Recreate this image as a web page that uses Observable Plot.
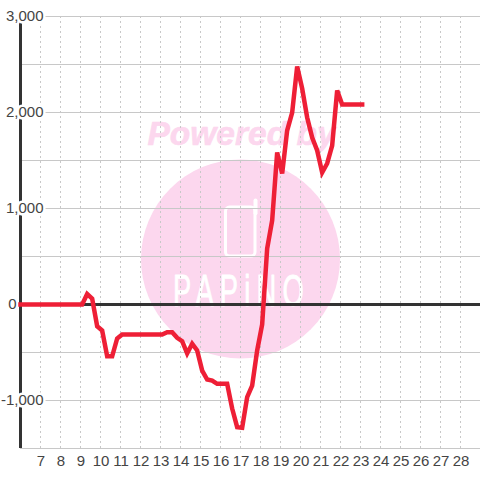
<!DOCTYPE html>
<html>
<head>
<meta charset="utf-8">
<script src="https://cdn.jsdelivr.net/npm/d3@7"></script>
<script src="https://cdn.jsdelivr.net/npm/@observablehq/plot@0.6"></script>
<style>
html,body{margin:0;padding:0;background:#fff}
svg{display:block}
</style>
</head>
<body>
<div id="chart"></div>
<script>
const hourTicks = [7,8,9,10,11,12,13,14,15,16,17,18,19,20,21,22,23,24,25,26,27,28];
const hourLabels = ["7","8","9","10","11","12","13","14","15","16","17","18","19","20","21","22","23","24","25","26","27","28"];
const gridValues = [3000,2500,2000,1500,1000,500,-500,-1000,-1500];
const valueTicks = [3000,2000,1000,-1000];
const valueLabels = ["3,000","2,000","1,000","-1,000"];
const zeroTick = [0];
const zeroLabel = ["0"];
const times = ["6:00","9:05","9:20","9:35","9:50","10:05","10:20","10:35","10:50","11:05","13:05","13:20","13:35","13:50","14:05","14:20","14:35","14:50","15:05","15:20","15:35","15:50","16:05","16:20","16:35","16:50","17:05","17:20","17:35","17:50","18:05","18:20","18:35","18:50","19:05","19:20","19:35","19:50","20:05","20:20","20:35","20:50","21:05","21:20","21:35","21:50","22:05","23:05"];
const values = [0,0,109,62,-226,-271,-539,-539,-354,-312,-312,-289,-289,-347,-382,-510,-409,-479,-688,-781,-792,-826,-826,-826,-1083,-1278,-1284,-966,-844,-479,-208,583,875,1583,1365,1812,2000,2479,2250,1948,1740,1604,1375,1469,1656,2229,2083,2083];

// watermark, in chart units
const badgeCentre = [{h:17, v:474}];
const logoBody = [{h1:16.275, h2:17.75, v1:1010, v2:500}];
const antennaHours = [17.75,17.75];
const antennaValues = [1083,950];
const PINK = "#fcd7ee";

const toHour = t => { const [h,m] = t.split(":").map(Number); return h + m/60; };
const series = times.map((t,i) => ({h: toHour(t), v: values[i]}));
const valueRows = valueTicks.map((v,i) => ({v, label: valueLabels[i]}));
const zeroRows = zeroTick.map((v,i) => ({v, label: zeroLabel[i]}));
const hourRows = hourTicks.map((h,i) => ({h, label: hourLabels[i]}));

const squeeze = (index, scales, vals, dims, ctx, next) => {
  const g = next(index, scales, vals, dims, ctx);
  g.querySelectorAll("text").forEach(t => {
    t.style.letterSpacing = "10px";
    t.setAttribute("textLength", 137);
    t.setAttribute("lengthAdjust", "spacingAndGlyphs");
  });
  return g;
};

const chart = Plot.plot({
  width: 480, height: 480,
  marginLeft: 20, marginRight: 0, marginTop: 16, marginBottom: 32,
  style: {background:"#fff", fontFamily:"'Liberation Sans',Arial,sans-serif", overflow:"visible"},
  x: {domain:[6,29], axis:null},
  y: {domain:[-1500,3000], axis:null},
  marks: [
    Plot.dot(badgeCentre, {x:"h", y:"v", r:99.5, fill:PINK, stroke:"none"}),
    Plot.text(["Powered by"], {x:()=>17.05, y:()=>1771, text:d=>d, fill:PINK, stroke:PINK, strokeWidth:0.6, fontSize:33.5, fontWeight:"bold", fontStyle:"italic", fontFamily:"'Liberation Sans',sans-serif"}),
    Plot.rect(logoBody, {x1:"h1", x2:"h2", y1:"v1", y2:"v2", fill:"none", stroke:"#fff", strokeWidth:3, rx:4}),
    Plot.line(antennaHours.map((h,i)=>({h,v:antennaValues[i]})), {x:"h", y:"v", stroke:"#fff", strokeWidth:4, strokeLinecap:"round"}),
    Plot.text(["PAPiNO"], {x:()=>17.05, y:()=>135, text:d=>d, fill:"#fff", stroke:"#fff", strokeWidth:0.8, fontSize:44, fontFamily:"'Liberation Sans',sans-serif", render:squeeze}),
    Plot.ruleY(gridValues, {stroke:"#c8c8c8", strokeWidth:1}),
    Plot.ruleX(hourTicks, {stroke:"#c8c8c8", strokeWidth:1, strokeDasharray:"2,3"}),
    Plot.ruleX([6], {stroke:"#333", strokeWidth:3}),
    Plot.ruleY([0], {stroke:"#333", strokeWidth:3}),
    Plot.text(valueRows, {x:()=>6, y:"v", text:"label", dx:23, textAnchor:"end", fontSize:15, fill:"#444", stroke:"#fff", strokeWidth:5}),
    Plot.text(zeroRows, {x:()=>6, y:"v", text:"label", dx:-4, textAnchor:"end", fontSize:15, fill:"#444"}),
    Plot.text(hourRows, {x:"h", y:()=>-1500, text:"label", dx:0.5, dy:13, lineAnchor:"middle", fontSize:15, fill:"#444"}),
    Plot.line(series, {x:"h", y:"v", stroke:"#ee1f36", strokeWidth:4.5, strokeLinecap:"square", strokeLinejoin:"miter", strokeMiterlimit:3})
  ]
});
document.getElementById("chart").appendChild(chart);
</script>
</body>
</html>
